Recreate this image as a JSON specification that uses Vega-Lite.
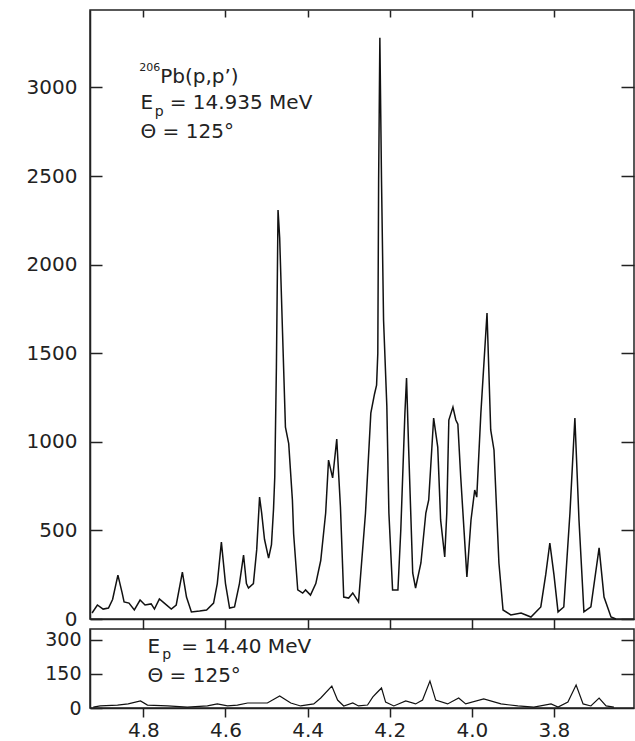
{
  "$schema": "https://vega.github.io/schema/vega-lite/v6.json",
  "padding": {"left": 25, "top": 8, "right": 2, "bottom": 0},
  "background": "white",
  "spacing": 10,
  "bounds": "flush",
  "config": {
    "view": {"stroke": "#222", "strokeWidth": 1.5},
    "axis": {"grid": false, "labelFont": "DejaVu Sans", "labelFontSize": 20, "labelColor": "#222", "tickColor": "#222", "domainColor": "#222", "domainWidth": 1.5, "tickWidth": 1.5, "title": null},
    "text": {"font": "DejaVu Sans", "fontSize": 20, "color": "#222", "align": "left", "baseline": "alphabetic"}
  },
  "datasets": {
    "top": [
      {"e":4.925,"c":34},{"e":4.912,"c":79},{"e":4.898,"c":56},{"e":4.885,"c":62},{"e":4.875,"c":110},{"e":4.862,"c":248},{"e":4.852,"c":150},{"e":4.847,"c":96},{"e":4.835,"c":90},{"e":4.822,"c":51},{"e":4.808,"c":107},{"e":4.796,"c":79},{"e":4.781,"c":85},{"e":4.773,"c":56},{"e":4.761,"c":113},{"e":4.749,"c":90},{"e":4.732,"c":56},{"e":4.720,"c":79},{"e":4.705,"c":265},{"e":4.695,"c":124},{"e":4.683,"c":40},{"e":4.663,"c":45},{"e":4.646,"c":51},{"e":4.629,"c":90},{"e":4.620,"c":200},{"e":4.610,"c":434},{"e":4.600,"c":200},{"e":4.590,"c":62},{"e":4.578,"c":68},{"e":4.566,"c":200},{"e":4.556,"c":361},{"e":4.549,"c":200},{"e":4.544,"c":175},{"e":4.532,"c":200},{"e":4.524,"c":390},{"e":4.517,"c":688},{"e":4.512,"c":600},{"e":4.505,"c":450},{"e":4.495,"c":344},{"e":4.488,"c":420},{"e":4.483,"c":620},{"e":4.480,"c":800},{"e":4.476,"c":1420},{"e":4.472,"c":2308},{"e":4.468,"c":2150},{"e":4.461,"c":1614},{"e":4.454,"c":1083},{"e":4.446,"c":990},{"e":4.437,"c":671},{"e":4.434,"c":480},{"e":4.424,"c":164},{"e":4.412,"c":146},{"e":4.405,"c":164},{"e":4.393,"c":135},{"e":4.380,"c":200},{"e":4.368,"c":330},{"e":4.356,"c":598},{"e":4.349,"c":897},{"e":4.339,"c":796},{"e":4.329,"c":1015},{"e":4.320,"c":632},{"e":4.312,"c":124},{"e":4.300,"c":118},{"e":4.290,"c":147},{"e":4.276,"c":96},{"e":4.259,"c":598},{"e":4.246,"c":1162},{"e":4.237,"c":1270},{"e":4.232,"c":1320},{"e":4.229,"c":1500},{"e":4.227,"c":2477},{"e":4.224,"c":3280},{"e":4.220,"c":2477},{"e":4.215,"c":1687},{"e":4.207,"c":1200},{"e":4.202,"c":598},{"e":4.193,"c":164},{"e":4.180,"c":164},{"e":4.173,"c":502},{"e":4.163,"c":1162},{"e":4.159,"c":1360},{"e":4.154,"c":970},{"e":4.144,"c":260},{"e":4.137,"c":175},{"e":4.124,"c":316},{"e":4.112,"c":598},{"e":4.105,"c":672},{"e":4.093,"c":1134},{"e":4.083,"c":970},{"e":4.076,"c":559},{"e":4.066,"c":350},{"e":4.061,"c":598},{"e":4.056,"c":1123},{"e":4.046,"c":1196},{"e":4.039,"c":1123},{"e":4.034,"c":1100},{"e":4.027,"c":800},{"e":4.019,"c":500},{"e":4.012,"c":237},{"e":4.002,"c":559},{"e":3.993,"c":728},{"e":3.988,"c":688},{"e":3.978,"c":1162},{"e":3.963,"c":1727},{"e":3.954,"c":1067},{"e":3.946,"c":954},{"e":3.934,"c":316},{"e":3.924,"c":51},{"e":3.905,"c":23},{"e":3.880,"c":34},{"e":3.856,"c":11},{"e":3.832,"c":68},{"e":3.820,"c":250},{"e":3.810,"c":429},{"e":3.800,"c":250},{"e":3.790,"c":40},{"e":3.776,"c":68},{"e":3.761,"c":598},{"e":3.749,"c":1134},{"e":3.739,"c":559},{"e":3.727,"c":40},{"e":3.710,"c":68},{"e":3.690,"c":401},{"e":3.678,"c":124},{"e":3.661,"c":11},{"e":3.649,"c":0}
    ],
    "bottom": [
      {"e":4.922,"c":4},{"e":4.905,"c":9},{"e":4.863,"c":13},{"e":4.837,"c":18},{"e":4.807,"c":31},{"e":4.790,"c":13},{"e":4.741,"c":9},{"e":4.693,"c":4},{"e":4.644,"c":9},{"e":4.620,"c":18},{"e":4.595,"c":9},{"e":4.571,"c":13},{"e":4.546,"c":22},{"e":4.498,"c":22},{"e":4.468,"c":53},{"e":4.441,"c":22},{"e":4.417,"c":9},{"e":4.385,"c":18},{"e":4.368,"c":44},{"e":4.341,"c":97},{"e":4.327,"c":35},{"e":4.312,"c":9},{"e":4.290,"c":22},{"e":4.276,"c":9},{"e":4.254,"c":13},{"e":4.241,"c":49},{"e":4.232,"c":66},{"e":4.220,"c":88},{"e":4.210,"c":26},{"e":4.190,"c":9},{"e":4.161,"c":31},{"e":4.137,"c":18},{"e":4.120,"c":35},{"e":4.102,"c":119},{"e":4.088,"c":35},{"e":4.059,"c":18},{"e":4.032,"c":44},{"e":4.015,"c":18},{"e":3.971,"c":40},{"e":3.929,"c":18},{"e":3.888,"c":9},{"e":3.849,"c":4},{"e":3.807,"c":18},{"e":3.790,"c":4},{"e":3.766,"c":26},{"e":3.746,"c":101},{"e":3.729,"c":18},{"e":3.710,"c":9},{"e":3.690,"c":44},{"e":3.673,"c":9},{"e":3.654,"c":4}
    ],
    "one": [{}]
  },
  "vconcat": [
    {
      "width": 544,
      "height": 609,
      "resolve": {"axis": {"x": "independent", "y": "independent"}},
      "layer": [
        {
          "data": {"name": "top"},
          "mark": {"type": "line", "color": "#111", "strokeWidth": 1.5},
          "encoding": {
            "x": {"field": "e", "type": "quantitative", "scale": {"domain": [3.605, 4.93], "reverse": true, "nice": false, "zero": false}, "axis": {"orient": "bottom", "values": [4.8, 4.6, 4.4, 4.2, 4.0, 3.8], "labels": false, "tickSize": 10}},
            "y": {"field": "c", "type": "quantitative", "scale": {"domain": [0, 3437], "nice": false}, "axis": {"orient": "left", "values": [0, 500, 1000, 1500, 2000, 2500, 3000], "format": "d", "tickSize": -12, "labelPadding": 25}}
          }
        },
        {
          "data": {"name": "one"},
          "mark": {"type": "text", "fontSize": 20},
          "encoding": {
            "x": {"datum": 4.759, "type": "quantitative", "scale": {"domain": [3.605, 4.93], "reverse": true, "nice": false, "zero": false}, "axis": {"orient": "top", "values": [4.8, 4.6, 4.4, 4.2, 4.0, 3.8], "labels": false, "tickSize": -7, "domain": false}},
            "y": {"datum": 3025, "type": "quantitative", "scale": {"domain": [0, 3437], "nice": false}, "axis": {"orient": "right", "values": [0, 500, 1000, 1500, 2000, 2500, 3000], "labels": false, "tickSize": -13, "domain": false}},
            "text": {"value": "Pb(p,p’)"}
          }
        },
        {
          "data": {"name": "one"},
          "mark": {"type": "text", "fontSize": 11},
          "encoding": {
            "x": {"datum": 4.810, "type": "quantitative", "scale": {"domain": [3.605, 4.93], "reverse": true, "nice": false, "zero": false}, "axis": null},
            "y": {"datum": 3095, "type": "quantitative", "scale": {"domain": [0, 3437], "nice": false}, "axis": null},
            "text": {"value": "206"}
          }
        },
        {
          "data": {"name": "one"},
          "mark": {"type": "text", "fontSize": 20},
          "encoding": {
            "x": {"datum": 4.807, "type": "quantitative", "scale": {"domain": [3.605, 4.93], "reverse": true, "nice": false, "zero": false}, "axis": null},
            "y": {"datum": 2878, "type": "quantitative", "scale": {"domain": [0, 3437], "nice": false}, "axis": null},
            "text": {"value": "E"}
          }
        },
        {
          "data": {"name": "one"},
          "mark": {"type": "text", "fontSize": 14},
          "encoding": {
            "x": {"datum": 4.772, "type": "quantitative", "scale": {"domain": [3.605, 4.93], "reverse": true, "nice": false, "zero": false}, "axis": null},
            "y": {"datum": 2838, "type": "quantitative", "scale": {"domain": [0, 3437], "nice": false}, "axis": null},
            "text": {"value": "p"}
          }
        },
        {
          "data": {"name": "one"},
          "mark": {"type": "text", "fontSize": 20},
          "encoding": {
            "x": {"datum": 4.736, "type": "quantitative", "scale": {"domain": [3.605, 4.93], "reverse": true, "nice": false, "zero": false}, "axis": null},
            "y": {"datum": 2878, "type": "quantitative", "scale": {"domain": [0, 3437], "nice": false}, "axis": null},
            "text": {"value": "= 14.935 MeV"}
          }
        },
        {
          "data": {"name": "one"},
          "mark": {"type": "text", "fontSize": 20},
          "encoding": {
            "x": {"datum": 4.807, "type": "quantitative", "scale": {"domain": [3.605, 4.93], "reverse": true, "nice": false, "zero": false}, "axis": null},
            "y": {"datum": 2714, "type": "quantitative", "scale": {"domain": [0, 3437], "nice": false}, "axis": null},
            "text": {"value": "Θ = 125°"}
          }
        }
      ]
    },
    {
      "width": 544,
      "height": 79,
      "resolve": {"axis": {"x": "independent", "y": "independent"}},
      "layer": [
        {
          "data": {"name": "bottom"},
          "mark": {"type": "line", "color": "#111", "strokeWidth": 1.2},
          "encoding": {
            "x": {"field": "e", "type": "quantitative", "scale": {"domain": [3.605, 4.93], "reverse": true, "nice": false, "zero": false}, "axis": {"orient": "bottom", "values": [4.8, 4.6, 4.4, 4.2, 4.0, 3.8], "format": ".1f", "tickSize": 9, "labelPadding": 3}},
            "y": {"field": "c", "type": "quantitative", "scale": {"domain": [0, 348], "nice": false}, "axis": {"orient": "left", "values": [0, 150, 300], "format": "d", "tickSize": -12, "labelPadding": 21, "labelFontSize": 19}}
          }
        },
        {
          "data": {"name": "one"},
          "mark": {"type": "text", "fontSize": 20},
          "encoding": {
            "x": {"datum": 4.790, "type": "quantitative", "scale": {"domain": [3.605, 4.93], "reverse": true, "nice": false, "zero": false}, "axis": null},
            "y": {"datum": 243, "type": "quantitative", "scale": {"domain": [0, 348], "nice": false}, "axis": {"orient": "right", "values": [150, 300], "labels": false, "tickSize": -13, "domain": false}},
            "text": {"value": "E"}
          }
        },
        {
          "data": {"name": "one"},
          "mark": {"type": "text", "fontSize": 14},
          "encoding": {
            "x": {"datum": 4.754, "type": "quantitative", "scale": {"domain": [3.605, 4.93], "reverse": true, "nice": false, "zero": false}, "axis": null},
            "y": {"datum": 214, "type": "quantitative", "scale": {"domain": [0, 348], "nice": false}, "axis": null},
            "text": {"value": "p"}
          }
        },
        {
          "data": {"name": "one"},
          "mark": {"type": "text", "fontSize": 20},
          "encoding": {
            "x": {"datum": 4.708, "type": "quantitative", "scale": {"domain": [3.605, 4.93], "reverse": true, "nice": false, "zero": false}, "axis": null},
            "y": {"datum": 243, "type": "quantitative", "scale": {"domain": [0, 348], "nice": false}, "axis": null},
            "text": {"value": "= 14.40 MeV"}
          }
        },
        {
          "data": {"name": "one"},
          "mark": {"type": "text", "fontSize": 20},
          "encoding": {
            "x": {"datum": 4.790, "type": "quantitative", "scale": {"domain": [3.605, 4.93], "reverse": true, "nice": false, "zero": false}, "axis": null},
            "y": {"datum": 114, "type": "quantitative", "scale": {"domain": [0, 348], "nice": false}, "axis": null},
            "text": {"value": "Θ = 125°"}
          }
        }
      ]
    }
  ]
}
